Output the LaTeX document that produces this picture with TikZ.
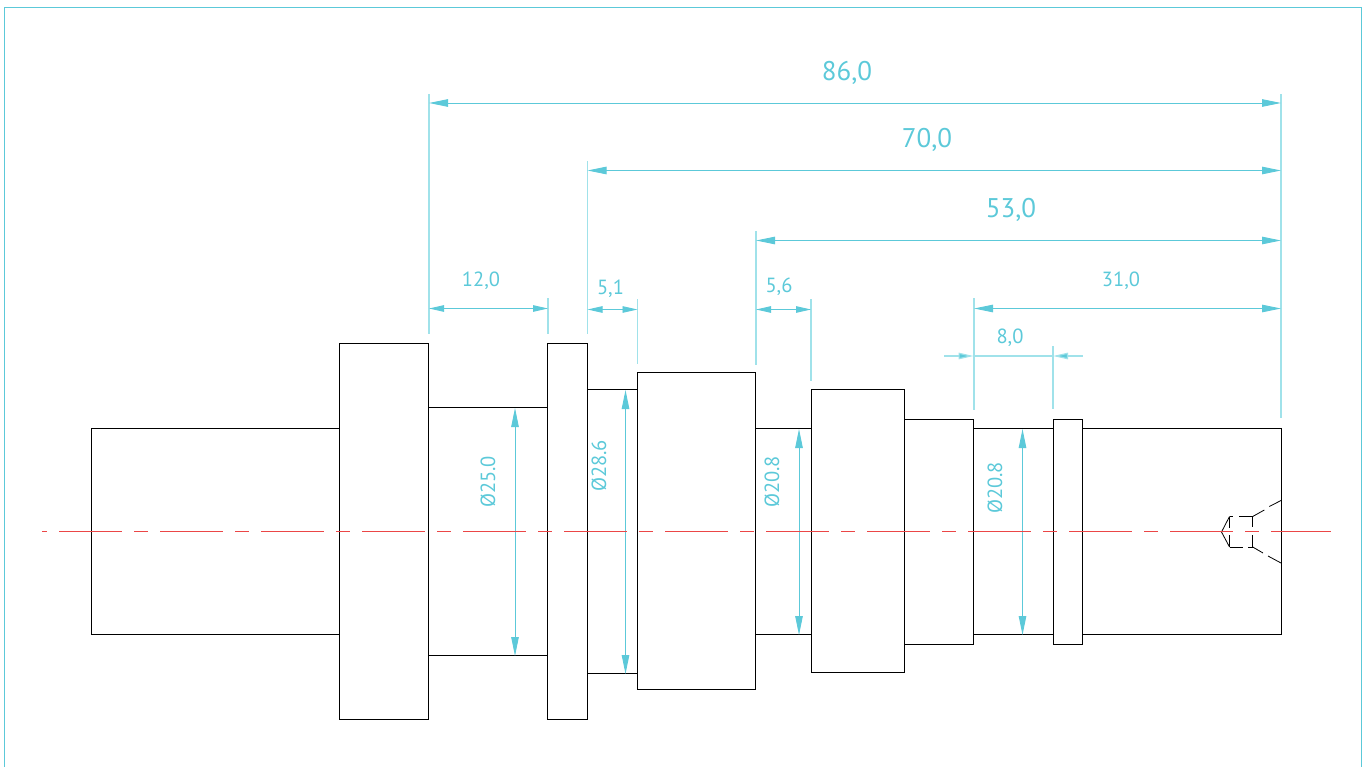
\documentclass[tikz,border=0pt]{standalone}
\usepackage{fontspec}
\setmainfont{PT Sans}
\usetikzlibrary{arrows.meta}
\definecolor{dimc}{RGB}{92,201,217}
\definecolor{extc}{RGB}{160,226,234}
\definecolor{chainred}{RGB}{235,70,70}
\tikzset{
  part/.style={draw=black,line width=0.8pt,fill=none},
  hidden/.style={draw=black,line width=0.8pt},
  frameline/.style={draw=dimc,line width=1.2pt},
  chain/.style={color=chainred,line width=1.4pt,line cap=butt},
  extline/.style={draw=extc,line width=1.2pt},
  dimline/.style={draw=dimc,line width=0.9pt,{Triangle[length=19pt,width=7.5pt,fill=dimc]}-{Triangle[length=19pt,width=7.5pt,fill=dimc]}},
  dimsmall/.style={draw=dimc,line width=0.9pt,{Triangle[length=15pt,width=6.5pt,fill=dimc]}-{Triangle[length=15pt,width=6.5pt,fill=dimc]}},
  dimout/.style={draw=extc,line width=1.2pt,-{Triangle[length=15pt,width=6.5pt,fill=dimc]}},
  biglabel/.style={text=dimc,font=\fontsize{27}{30}\selectfont,inner sep=0pt},
  smalllabel/.style={text=dimc,font=\fontsize{20.5}{24}\selectfont,inner sep=0pt},
  vlabel/.style={smalllabel,rotate=90},
}
\begin{document}
\begin{tikzpicture}[x=1pt,y=-1pt]
\useasboundingbox (0,0) rectangle (1364,767);
% frame
\draw[frameline] (4.5,775) -- (4.5,7.5) -- (1361.5,7.5) -- (1361.5,775);
% shaft
\foreach \xa/\ya/\xb/\yb in {
 91.5/429/339.5/635, 339.5/344/428.5/720, 428.5/408/547.5/656, 547.5/344/587.5/720,
 587.5/390/637.5/674, 637.5/373/755.5/690, 755.5/429/811/635, 811/390/904.5/673,
 904.5/419.5/973.5/644.5, 973.5/429/1053/635, 1053/419.5/1082.5/644.5, 1082.5/429/1281/635}
 {\draw[part] (\xa,\ya-0.4) rectangle (\xb,\yb-0.4);}
% centre hole (hidden lines)
\draw[hidden] (1229.5,516.5) -- (1233,516.5) (1239,516.5) -- (1252.7,516.5);
\draw[hidden] (1229.5,547) -- (1243,547) (1248,547) -- (1252.7,547);
\draw[hidden] (1252.7,516.5) -- (1264.3,510) (1269.3,506.5) -- (1281,500.5);
\draw[hidden] (1252.7,547) -- (1263,553) (1268,556) -- (1281,563);
\draw[hidden] (1229.5,516.5) -- (1221.5,532) -- (1229.5,547);
\draw[hidden] (1229.5,516.5) -- (1229.5,528) (1229.5,535) -- (1229.5,547);
\draw[hidden] (1252.7,516.5) -- (1252.7,527) (1252.7,535) -- (1252.7,547);
% extension lines
\foreach \x/\ya/\yb in {429/94/334, 1281/94/418, 587.5/161/334, 756/231/365, 974/298/410,
  548/298/334, 637.5/299/364, 811/299/381, 1053/346/409}
 {\draw[extline] (\x,\ya) -- (\x,\yb);}
% main dimension lines
\coordinate (a86) at (429,103);   \coordinate (b86) at (1281,103);
\coordinate (a70) at (587.5,170.5); \coordinate (b70) at (1281,170.5);
\coordinate (a53) at (756,240.5); \coordinate (b53) at (1281,240.5);
\coordinate (a31) at (974,308.5); \coordinate (b31) at (1281,308.5);
\draw[dimline] (a86) -- (b86);
\draw[dimline] (a70) -- (b70);
\draw[dimline] (a53) -- (b53);
\draw[dimline] (a31) -- (b31);
\coordinate (a12) at (429,308.5); \coordinate (b12) at (548,308.5);
\coordinate (a51) at (587.5,309.5); \coordinate (b51) at (637.5,309.5);
\coordinate (a56) at (756,309.5); \coordinate (b56) at (811,309.5);
\draw[dimsmall] (a12) -- (b12);
\draw[dimsmall] (a51) -- (b51);
\draw[dimsmall] (a56) -- (b56);
\coordinate (o8a) at (944,356); \coordinate (t8a) at (973.5,356);
\coordinate (o8b) at (1083,356); \coordinate (t8b) at (1053,356);
\draw[dimout] (o8a) -- (t8a);
\draw[dimout] (o8b) -- (t8b);
\draw[draw=extc,line width=1.2pt] (t8a) -- (t8b);
\coordinate (a250) at (515,408); \coordinate (b250) at (515,656);
\coordinate (a286) at (625.5,390); \coordinate (b286) at (625.5,674);
\coordinate (a208) at (799,429); \coordinate (b208) at (799,635);
\coordinate (c208) at (1022.5,429); \coordinate (d208) at (1022.5,635);
\draw[dimline] (a250) -- (b250);
\draw[dimline] (a286) -- (b286);
\draw[dimline] (a208) -- (b208);
\draw[dimline] (c208) -- (d208);
% axis, drawn last, above everything else
\draw[chain] (42,531.5) -- (47,531.5);
\foreach \s in {59,160,...,1271}
 {\pgfmathsetmacro{\e}{min(\s+63,1331)}
  \draw[chain] (\s,531.5) -- (\e,531.5);}
\foreach \s in {134,235,...,1245}
 {\pgfmathsetmacro{\e}{\s+14}
  \draw[chain] (\s,531.5) -- (\e,531.5);}
% labels
\node[biglabel] (l86) at (847,73) {86,0};
\node[biglabel] (l70) at (927,140) {70,0};
\node[biglabel] (l53) at (1011,210) {53,0};
\node[smalllabel] (l31) at (1121,281) {31,0};
\node[smalllabel] (l12) at (481,281) {12,0};
\node[smalllabel] (l51) at (610.5,288.5) {5,1};
\node[smalllabel] (l56) at (779,286.5) {5,6};
\node[smalllabel] (l8) at (1010,337.5) {8,0};
\node[vlabel] (l250) at (488,482) {Ø25.0};
\node[vlabel] (l286) at (599,466) {Ø28.6};
\node[vlabel] (l208a) at (772,482) {Ø20.8};
\node[vlabel] (l208b) at (995,488) {Ø20.8};
\end{tikzpicture}
\end{document}
